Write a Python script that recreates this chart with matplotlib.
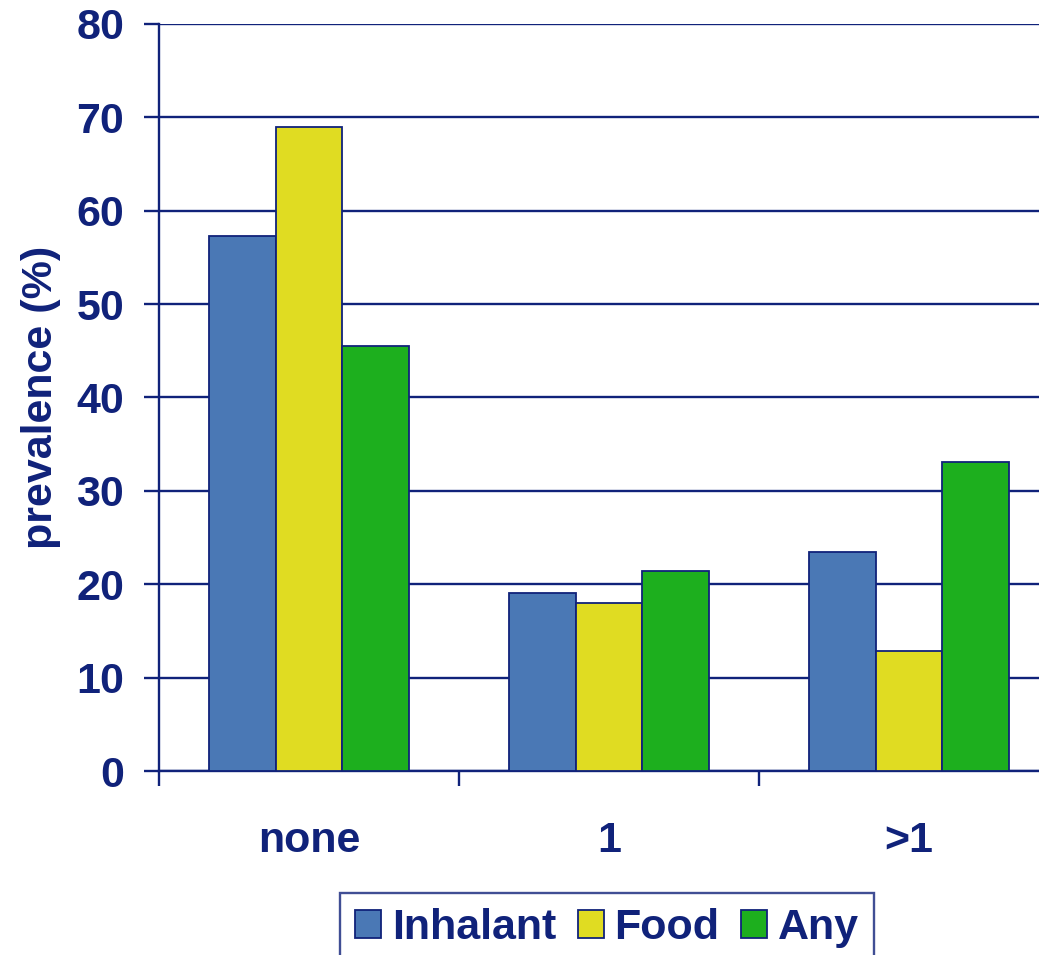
import numpy as np
import matplotlib.pyplot as plt
from matplotlib.ticker import FixedLocator

plt.rcParams['font.family'] = ['Liberation Sans', 'DejaVu Sans']
plt.rcParams['font.weight'] = 'bold'

categories = ['none', '1', '>1']
series = ['Inhalant', 'Food', 'Any']
inhalant = [57.3, 19.1, 23.5]
food = [69.0, 18.0, 12.9]
any_allergy = [45.5, 21.4, 33.1]
colors = ['#4a78b5', '#e0dc22', '#1daf1e']
navy = '#10227a'
fs = 31

fig = plt.figure(figsize=(10.39, 9.55), dpi=100)
ax = fig.add_axes([159/1039, 1-771/955, 900/1039, (771-24)/955])

x = np.arange(len(categories))
w = 0.223
for k, (vals, c, name) in enumerate(zip([inhalant, food, any_allergy], colors, series)):
    ax.bar(x + (k-1)*w, vals, width=w, color=c, edgecolor=navy, linewidth=1.3,
           label=name, zorder=3)

ax.set_xlim(-0.5, 2.5)
ax.set_ylim(0, 80)
ax.set_yticks(np.arange(0, 81, 10))
ax.yaxis.grid(True, color=navy, linewidth=1.7, zorder=1)
for s in ['top', 'right']:
    ax.spines[s].set_visible(False)
for s in ['left', 'bottom']:
    ax.spines[s].set_color(navy)
    ax.spines[s].set_linewidth(1.7)

ax.set_xticks(x)
ax.set_xticklabels(categories)
ax.xaxis.set_minor_locator(FixedLocator([-0.5, 0.5, 1.5, 2.5]))
ax.tick_params(axis='x', which='major', length=0, pad=36, labelsize=fs, labelcolor=navy)
ax.tick_params(axis='x', which='minor', length=11, width=1.7, color=navy, direction='out')
ax.tick_params(axis='y', length=11, width=1.7, color=navy, direction='out', pad=14,
               labelsize=fs, labelcolor=navy)
ax.set_ylabel('prevalence (%)', fontsize=fs, color=navy, fontweight='bold', labelpad=11)

leg = fig.legend(loc='upper center', bbox_to_anchor=(607/1039, 1-893/955), ncol=3,
                 fontsize=fs, frameon=True, fancybox=False, handlelength=0.6,
                 handleheight=0.6, handletextpad=0.25, columnspacing=0.5,
                 borderpad=0.35, borderaxespad=0)
leg.get_frame().set_edgecolor(navy)
leg.get_frame().set_linewidth(1.7)
for t in leg.get_texts():
    t.set_color(navy)

fig.savefig('out.png', dpi=100)
